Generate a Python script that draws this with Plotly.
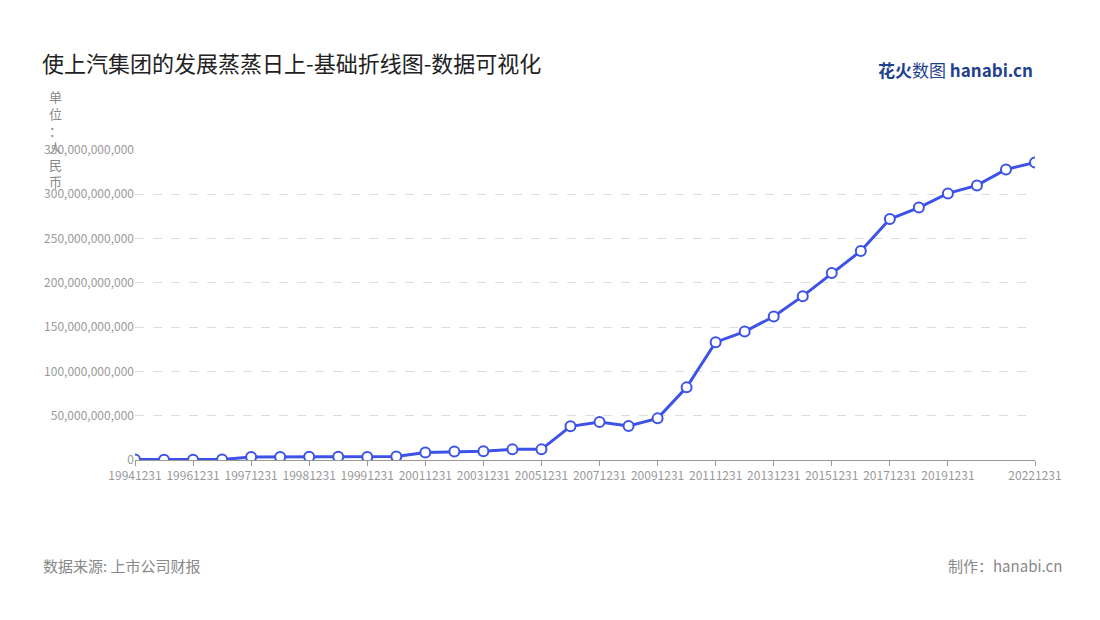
import plotly.graph_objects as go

dates = ["19941231","19951231","19961231","19970630","19971231","19980630","19981231","19990630",
         "19991231","20001231","20011231","20021231","20031231","20041231","20051231","20061231",
         "20071231","20081231","20091231","20101231","20111231","20121231","20131231","20141231",
         "20151231","20161231","20171231","20181231","20191231","20201231","20211231","20221231"]
values_b = [0.5,0.3,0.4,0.5,3.4,3.5,3.8,3.8,3.5,4.0,8.5,9.5,10,12,12,38,
            43,38.5,47,82,133,145,162,185,211,236,272,285,301,310,328,336]
values = [v*1e9 for v in values_b]
tick_labels = ["19941231","19961231","19971231","19981231","19991231","20011231","20031231",
               "20051231","20071231","20091231","20111231","20131231","20151231","20171231",
               "20191231","20221231"]

fig = go.Figure(go.Scatter(
    x=dates, y=values, mode="lines+markers",
    line=dict(color="#3d52e8", width=3),
    marker=dict(size=10, color="white", line=dict(color="#3d52e8", width=2)),
    hoverinfo="x+y"))

fig.update_layout(
    width=1100, height=620, paper_bgcolor="white", plot_bgcolor="white",
    margin=dict(l=127, r=73, t=142, b=168),
    font=dict(family="Noto Sans CJK SC", color="#999"),
    showlegend=False,
    title=dict(text="使上汽集团的发展蒸蒸日上-基础折线图-数据可视化", x=0.031, y=0.922, xanchor="left",
               font=dict(size=22, color="#222")),
    xaxis=dict(type="category", range=[0, 31], tickmode="array", tickvals=tick_labels, ticktext=tick_labels,
               showgrid=False, showline=True, linecolor="#999", ticks="outside", ticklen=5, tickcolor="#999",
               tickfont=dict(size=12, color="#999"), tickangle=0),
    yaxis=dict(range=[0, 350e9], dtick=50e9, tickformat=",d", showgrid=True, gridcolor="#ddd",
               griddash="dash", zeroline=False, tickfont=dict(size=12, color="#999")),
    annotations=[
        dict(text="单<br>位<br>：<br>人<br>民<br>币", xref="paper", yref="paper", x=-0.088, y=1.21,
             xanchor="center", yanchor="top", showarrow=False, font=dict(size=13, color="#888")),
        dict(text="数据来源: 上市公司财报", xref="paper", yref="paper", x=-0.104, y=-0.34,
             xanchor="left", yanchor="middle", showarrow=False, font=dict(size=15, color="#888")),
        dict(text="制作：hanabi.cn", xref="paper", yref="paper", x=1.032, y=-0.34,
             xanchor="right", yanchor="middle", showarrow=False, font=dict(size=15, color="#888")),
        dict(text="<b>花火</b>数图 <b>hanabi.cn</b>", xref="paper", yref="paper", x=1.0, y=1.26,
             xanchor="right", yanchor="middle", showarrow=False, font=dict(size=17, color="#1f3f8f")),
    ],
)
fig.write_html("out.html")
